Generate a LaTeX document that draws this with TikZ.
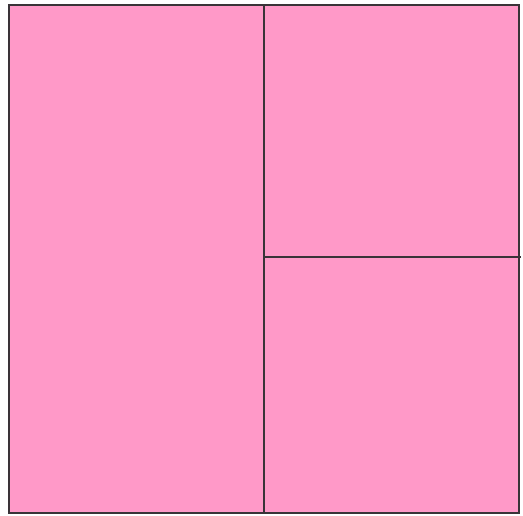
\documentclass[tikz,border=0pt]{standalone}
\usepackage{tikz}
\definecolor{panelpink}{HTML}{FF99C8}
\definecolor{edgecolor}{HTML}{3A3338}

\begin{document}
\begin{tikzpicture}[
    x=1pt, y=-1pt,
    panel/.style={fill=panelpink, draw=edgecolor, line width=1.5pt}
]
    \useasboundingbox (0,0) rectangle (523,515);

    % Left panel
    \filldraw[panel] (9,5) rectangle (264,513);

    % Right panels
    \filldraw[panel] (264,5) rectangle (519,257);
    \filldraw[panel] (264,257) rectangle (519,513);
    \draw[edgecolor, line width=1.5pt] (264,257) -- (521,257);

\end{tikzpicture}
\end{document}
